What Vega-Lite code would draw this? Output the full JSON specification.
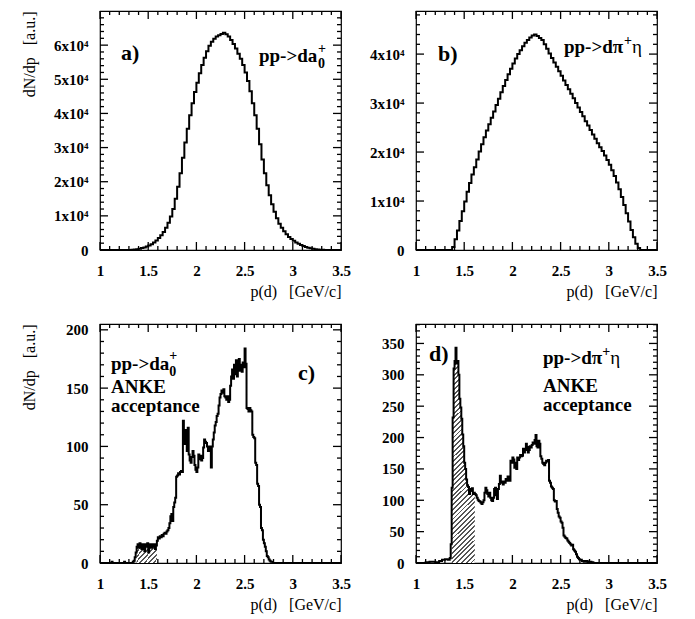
{
"$schema":"https://vega.github.io/schema/vega-lite/v6.json",
"padding":{"left":20,"top":10,"right":5,"bottom":5},
"autosize":{"type":"pad"},
"columns":2,
"spacing":{"row":74,"column":75},
"bounds":"flush",
"datasets":{
"xM":[1,1.5,2,2.5,3,3.5],
"xm":[1.1,1.2,1.3,1.4,1.6,1.7,1.8,1.9,2.1,2.2,2.3,2.4,2.6,2.7,2.8,2.9,3.1,3.2,3.3,3.4],
"yaM":[10000,20000,30000,40000,50000,60000],
"yam":[2000,4000,6000,8000,12000,14000,16000,18000,22000,24000,26000,28000,32000,34000,36000,38000,42000,44000,46000,48000,52000,54000,56000,58000,62000,64000,66000,68000],
"ybM":[10000,20000,30000,40000],
"ybm":[2000,4000,6000,8000,12000,14000,16000,18000,22000,24000,26000,28000,32000,34000,36000,38000,42000,44000,46000,48000],
"ycM":[50,100,150,200],
"ycm":[10,20,30,40,60,70,80,90,110,120,130,140,160,170,180,190],
"ydM":[50,100,150,200,250,300,350],
"ydm":[10,20,30,40,60,70,80,90,110,120,130,140,160,170,180,190,210,220,230,240,260,270,280,290,310,320,330,340,360,370,380],
"a":[{"p":1,"n":0},{"p":1.3,"n":30},{"p":1.325,"n":80},{"p":1.35,"n":150},{"p":1.375,"n":250},{"p":1.4,"n":380},{"p":1.425,"n":550},{"p":1.45,"n":750},{"p":1.475,"n":1000},{"p":1.5,"n":1300},{"p":1.525,"n":1700},{"p":1.55,"n":2200},{"p":1.575,"n":2800},{"p":1.6,"n":3500},{"p":1.625,"n":4300},{"p":1.65,"n":5300},{"p":1.675,"n":6500},{"p":1.7,"n":8000},{"p":1.725,"n":9800},{"p":1.75,"n":12000},{"p":1.775,"n":15000},{"p":1.8,"n":18500},{"p":1.825,"n":22500},{"p":1.85,"n":27000},{"p":1.875,"n":31500},{"p":1.9,"n":35500},{"p":1.925,"n":39500},{"p":1.95,"n":43000},{"p":1.975,"n":46300},{"p":2,"n":49000},{"p":2.025,"n":51800},{"p":2.05,"n":54200},{"p":2.075,"n":56300},{"p":2.1,"n":58200},{"p":2.125,"n":59800},{"p":2.15,"n":61000},{"p":2.175,"n":61900},{"p":2.2,"n":62500},{"p":2.225,"n":62900},{"p":2.25,"n":63300},{"p":2.275,"n":63600},{"p":2.3,"n":63200},{"p":2.325,"n":62500},{"p":2.35,"n":61500},{"p":2.375,"n":60300},{"p":2.4,"n":59000},{"p":2.425,"n":57500},{"p":2.45,"n":56000},{"p":2.475,"n":54200},{"p":2.5,"n":52000},{"p":2.525,"n":49500},{"p":2.55,"n":46500},{"p":2.575,"n":43000},{"p":2.6,"n":39500},{"p":2.625,"n":35500},{"p":2.65,"n":31000},{"p":2.675,"n":26500},{"p":2.7,"n":22500},{"p":2.725,"n":19000},{"p":2.75,"n":16000},{"p":2.775,"n":13400},{"p":2.8,"n":11200},{"p":2.825,"n":9300},{"p":2.85,"n":7700},{"p":2.875,"n":6500},{"p":2.9,"n":5500},{"p":2.925,"n":4600},{"p":2.95,"n":3800},{"p":2.975,"n":3200},{"p":3,"n":2700},{"p":3.025,"n":2200},{"p":3.05,"n":1800},{"p":3.075,"n":1450},{"p":3.1,"n":1150},{"p":3.125,"n":900},{"p":3.15,"n":680},{"p":3.175,"n":500},{"p":3.2,"n":360},{"p":3.225,"n":250},{"p":3.25,"n":160},{"p":3.275,"n":100},{"p":3.3,"n":50},{"p":3.325,"n":20},{"p":3.35,"n":0},{"p":3.5,"n":0}],
"b":[{"p":1,"n":0},{"p":1.375,"n":600},{"p":1.4,"n":2200},{"p":1.425,"n":4000},{"p":1.45,"n":5900},{"p":1.475,"n":7900},{"p":1.5,"n":9900},{"p":1.525,"n":11900},{"p":1.55,"n":13700},{"p":1.575,"n":15400},{"p":1.6,"n":16900},{"p":1.625,"n":18500},{"p":1.65,"n":20100},{"p":1.675,"n":21600},{"p":1.7,"n":23000},{"p":1.725,"n":24400},{"p":1.75,"n":25700},{"p":1.775,"n":27000},{"p":1.8,"n":28300},{"p":1.825,"n":29600},{"p":1.85,"n":30900},{"p":1.875,"n":32200},{"p":1.9,"n":33500},{"p":1.925,"n":34700},{"p":1.95,"n":35900},{"p":1.975,"n":37000},{"p":2,"n":38100},{"p":2.025,"n":39100},{"p":2.05,"n":40000},{"p":2.075,"n":40800},{"p":2.1,"n":41600},{"p":2.125,"n":42300},{"p":2.15,"n":42900},{"p":2.175,"n":43400},{"p":2.2,"n":43800},{"p":2.225,"n":44000},{"p":2.25,"n":43700},{"p":2.275,"n":43300},{"p":2.3,"n":42900},{"p":2.325,"n":42000},{"p":2.35,"n":41100},{"p":2.375,"n":40100},{"p":2.4,"n":39200},{"p":2.425,"n":38300},{"p":2.45,"n":37400},{"p":2.475,"n":36500},{"p":2.5,"n":35600},{"p":2.525,"n":34600},{"p":2.55,"n":33700},{"p":2.575,"n":32800},{"p":2.6,"n":31900},{"p":2.625,"n":31000},{"p":2.65,"n":30000},{"p":2.675,"n":29100},{"p":2.7,"n":28200},{"p":2.725,"n":27300},{"p":2.75,"n":26300},{"p":2.775,"n":25400},{"p":2.8,"n":24500},{"p":2.825,"n":23600},{"p":2.85,"n":22700},{"p":2.875,"n":21800},{"p":2.9,"n":21000},{"p":2.925,"n":20200},{"p":2.95,"n":19300},{"p":2.975,"n":18400},{"p":3,"n":17400},{"p":3.025,"n":16300},{"p":3.05,"n":15100},{"p":3.075,"n":13800},{"p":3.1,"n":12400},{"p":3.125,"n":10800},{"p":3.15,"n":9200},{"p":3.175,"n":7500},{"p":3.2,"n":5800},{"p":3.225,"n":4100},{"p":3.25,"n":2600},{"p":3.275,"n":1300},{"p":3.3,"n":400},{"p":3.325,"n":0},{"p":3.5,"n":0}],
"c":[{"p":1,"n":0},{"p":1.12,"n":1},{"p":1.13,"n":0},{"p":1.25,"n":1},{"p":1.26,"n":0},{"p":1.34,"n":1},{"p":1.35,"n":2},{"p":1.36,"n":5},{"p":1.37,"n":9},{"p":1.38,"n":14},{"p":1.39,"n":16},{"p":1.4,"n":13},{"p":1.41,"n":17},{"p":1.42,"n":15},{"p":1.43,"n":12},{"p":1.44,"n":16},{"p":1.45,"n":15},{"p":1.46,"n":10},{"p":1.47,"n":16},{"p":1.48,"n":14},{"p":1.49,"n":17},{"p":1.5,"n":9},{"p":1.51,"n":15},{"p":1.52,"n":16},{"p":1.53,"n":13},{"p":1.54,"n":16},{"p":1.55,"n":14},{"p":1.56,"n":16},{"p":1.57,"n":12},{"p":1.58,"n":15},{"p":1.59,"n":19},{"p":1.6,"n":22},{"p":1.61,"n":21},{"p":1.62,"n":23},{"p":1.63,"n":22},{"p":1.64,"n":24},{"p":1.65,"n":23},{"p":1.66,"n":25},{"p":1.67,"n":26},{"p":1.68,"n":25},{"p":1.69,"n":27},{"p":1.7,"n":28},{"p":1.71,"n":30},{"p":1.72,"n":34},{"p":1.73,"n":40},{"p":1.74,"n":42},{"p":1.75,"n":36},{"p":1.76,"n":48},{"p":1.77,"n":52},{"p":1.78,"n":56},{"p":1.79,"n":74},{"p":1.8,"n":75},{"p":1.81,"n":77},{"p":1.82,"n":76},{"p":1.83,"n":78},{"p":1.84,"n":79},{"p":1.85,"n":78},{"p":1.86,"n":122},{"p":1.87,"n":110},{"p":1.88,"n":102},{"p":1.89,"n":114},{"p":1.9,"n":96},{"p":1.91,"n":116},{"p":1.92,"n":93},{"p":1.93,"n":88},{"p":1.94,"n":86},{"p":1.95,"n":91},{"p":1.96,"n":96},{"p":1.97,"n":92},{"p":1.98,"n":84},{"p":1.99,"n":80},{"p":2,"n":78},{"p":2.01,"n":82},{"p":2.02,"n":93},{"p":2.03,"n":89},{"p":2.04,"n":92},{"p":2.05,"n":88},{"p":2.06,"n":90},{"p":2.07,"n":99},{"p":2.08,"n":106},{"p":2.09,"n":104},{"p":2.1,"n":103},{"p":2.11,"n":100},{"p":2.12,"n":96},{"p":2.13,"n":100},{"p":2.14,"n":96},{"p":2.15,"n":82},{"p":2.16,"n":100},{"p":2.17,"n":106},{"p":2.18,"n":112},{"p":2.19,"n":118},{"p":2.2,"n":121},{"p":2.21,"n":126},{"p":2.22,"n":128},{"p":2.23,"n":135},{"p":2.24,"n":142},{"p":2.25,"n":145},{"p":2.26,"n":148},{"p":2.27,"n":146},{"p":2.28,"n":149},{"p":2.29,"n":143},{"p":2.3,"n":142},{"p":2.31,"n":140},{"p":2.32,"n":143},{"p":2.33,"n":138},{"p":2.34,"n":140},{"p":2.35,"n":152},{"p":2.36,"n":160},{"p":2.37,"n":166},{"p":2.38,"n":158},{"p":2.39,"n":170},{"p":2.4,"n":162},{"p":2.41,"n":174},{"p":2.42,"n":160},{"p":2.43,"n":166},{"p":2.44,"n":175},{"p":2.45,"n":165},{"p":2.46,"n":170},{"p":2.47,"n":164},{"p":2.48,"n":172},{"p":2.49,"n":168},{"p":2.5,"n":184},{"p":2.51,"n":171},{"p":2.52,"n":133},{"p":2.53,"n":132},{"p":2.54,"n":130},{"p":2.55,"n":133},{"p":2.56,"n":131},{"p":2.57,"n":130},{"p":2.58,"n":110},{"p":2.59,"n":108},{"p":2.6,"n":107},{"p":2.61,"n":86},{"p":2.62,"n":84},{"p":2.63,"n":68},{"p":2.64,"n":66},{"p":2.65,"n":50},{"p":2.66,"n":48},{"p":2.67,"n":30},{"p":2.68,"n":28},{"p":2.69,"n":20},{"p":2.7,"n":17},{"p":2.71,"n":14},{"p":2.72,"n":10},{"p":2.73,"n":6},{"p":2.74,"n":5},{"p":2.75,"n":3},{"p":2.76,"n":2},{"p":2.77,"n":1},{"p":2.78,"n":1},{"p":2.79,"n":0},{"p":3.5,"n":0}],
"d":[{"p":1,"n":0},{"p":1.1,"n":1},{"p":1.14,"n":2},{"p":1.2,"n":1},{"p":1.24,"n":3},{"p":1.27,"n":5},{"p":1.3,"n":6},{"p":1.33,"n":5},{"p":1.35,"n":8},{"p":1.36,"n":30},{"p":1.37,"n":120},{"p":1.38,"n":232},{"p":1.39,"n":310},{"p":1.4,"n":322},{"p":1.41,"n":343},{"p":1.42,"n":318},{"p":1.43,"n":322},{"p":1.44,"n":300},{"p":1.45,"n":262},{"p":1.46,"n":248},{"p":1.47,"n":230},{"p":1.48,"n":205},{"p":1.49,"n":186},{"p":1.5,"n":160},{"p":1.51,"n":150},{"p":1.52,"n":133},{"p":1.53,"n":124},{"p":1.54,"n":121},{"p":1.55,"n":110},{"p":1.56,"n":118},{"p":1.57,"n":115},{"p":1.58,"n":119},{"p":1.59,"n":110},{"p":1.6,"n":112},{"p":1.61,"n":110},{"p":1.62,"n":108},{"p":1.63,"n":104},{"p":1.64,"n":101},{"p":1.65,"n":99},{"p":1.66,"n":98},{"p":1.67,"n":96},{"p":1.68,"n":94},{"p":1.69,"n":97},{"p":1.7,"n":100},{"p":1.71,"n":112},{"p":1.72,"n":120},{"p":1.73,"n":116},{"p":1.74,"n":110},{"p":1.75,"n":106},{"p":1.76,"n":112},{"p":1.77,"n":104},{"p":1.78,"n":100},{"p":1.79,"n":99},{"p":1.8,"n":104},{"p":1.81,"n":118},{"p":1.82,"n":120},{"p":1.83,"n":108},{"p":1.84,"n":102},{"p":1.85,"n":118},{"p":1.86,"n":126},{"p":1.87,"n":139},{"p":1.88,"n":130},{"p":1.89,"n":128},{"p":1.9,"n":125},{"p":1.91,"n":130},{"p":1.92,"n":128},{"p":1.93,"n":134},{"p":1.94,"n":131},{"p":1.95,"n":138},{"p":1.96,"n":132},{"p":1.97,"n":131},{"p":1.98,"n":163},{"p":1.99,"n":160},{"p":2,"n":168},{"p":2.01,"n":165},{"p":2.02,"n":152},{"p":2.03,"n":160},{"p":2.04,"n":150},{"p":2.05,"n":168},{"p":2.06,"n":164},{"p":2.07,"n":168},{"p":2.08,"n":172},{"p":2.09,"n":170},{"p":2.1,"n":171},{"p":2.11,"n":182},{"p":2.12,"n":176},{"p":2.13,"n":180},{"p":2.14,"n":190},{"p":2.15,"n":185},{"p":2.16,"n":176},{"p":2.17,"n":180},{"p":2.18,"n":186},{"p":2.19,"n":184},{"p":2.2,"n":188},{"p":2.21,"n":192},{"p":2.22,"n":190},{"p":2.23,"n":196},{"p":2.24,"n":204},{"p":2.25,"n":186},{"p":2.26,"n":184},{"p":2.27,"n":195},{"p":2.28,"n":190},{"p":2.29,"n":170},{"p":2.3,"n":166},{"p":2.31,"n":160},{"p":2.32,"n":158},{"p":2.33,"n":156},{"p":2.34,"n":160},{"p":2.35,"n":163},{"p":2.36,"n":162},{"p":2.37,"n":164},{"p":2.38,"n":131},{"p":2.39,"n":128},{"p":2.4,"n":122},{"p":2.41,"n":120},{"p":2.42,"n":118},{"p":2.43,"n":100},{"p":2.44,"n":98},{"p":2.45,"n":99},{"p":2.46,"n":86},{"p":2.47,"n":80},{"p":2.48,"n":74},{"p":2.49,"n":72},{"p":2.5,"n":66},{"p":2.51,"n":64},{"p":2.52,"n":56},{"p":2.53,"n":44},{"p":2.54,"n":42},{"p":2.55,"n":40},{"p":2.56,"n":39},{"p":2.57,"n":36},{"p":2.58,"n":34},{"p":2.59,"n":32},{"p":2.6,"n":30},{"p":2.61,"n":28},{"p":2.62,"n":29},{"p":2.63,"n":22},{"p":2.64,"n":20},{"p":2.65,"n":18},{"p":2.66,"n":14},{"p":2.67,"n":10},{"p":2.68,"n":8},{"p":2.69,"n":6},{"p":2.7,"n":5},{"p":2.72,"n":3},{"p":2.74,"n":2},{"p":2.76,"n":3},{"p":2.78,"n":1},{"p":2.8,"n":2},{"p":2.82,"n":1},{"p":2.84,"n":0},{"p":3.5,"n":0}]
},
"concat":[
{
"width":241,"height":239,"data":{"name":"a"},
"resolve":{"axis":{"x":"independent","y":"independent"}},
"layer":[
{"data":{"name":"xM"},"mark":{"type":"tick","orient":"vertical","color":"black","opacity":1,"thickness":1.3,"size":8,"yOffset":-4},"encoding":{"x":{"field":"data","type":"quantitative","scale":{"domain":[1,3.5],"nice":false,"zero":false},"axis":null},"y":{"datum":0,"type":"quantitative","scale":{"domain":[0,70000],"nice":false},"axis":null}}},
{"data":{"name":"xm"},"mark":{"type":"tick","orient":"vertical","color":"black","opacity":1,"thickness":1.3,"size":4,"yOffset":-2},"encoding":{"x":{"field":"data","type":"quantitative","scale":{"domain":[1,3.5],"nice":false,"zero":false},"axis":null},"y":{"datum":0,"type":"quantitative","scale":{"domain":[0,70000],"nice":false},"axis":null}}},
{"data":{"name":"xM"},"mark":{"type":"tick","orient":"vertical","color":"black","opacity":1,"thickness":1.3,"size":8,"yOffset":4},"encoding":{"x":{"field":"data","type":"quantitative","scale":{"domain":[1,3.5],"nice":false,"zero":false},"axis":null},"y":{"datum":70000,"type":"quantitative","scale":{"domain":[0,70000],"nice":false},"axis":null}}},
{"data":{"name":"xm"},"mark":{"type":"tick","orient":"vertical","color":"black","opacity":1,"thickness":1.3,"size":4,"yOffset":2},"encoding":{"x":{"field":"data","type":"quantitative","scale":{"domain":[1,3.5],"nice":false,"zero":false},"axis":null},"y":{"datum":70000,"type":"quantitative","scale":{"domain":[0,70000],"nice":false},"axis":null}}},
{"data":{"name":"yaM"},"mark":{"type":"tick","orient":"horizontal","color":"black","opacity":1,"thickness":1.3,"size":8,"xOffset":4},"encoding":{"y":{"field":"data","type":"quantitative","scale":{"domain":[0,70000],"nice":false},"axis":null},"x":{"datum":1,"type":"quantitative","scale":{"domain":[1,3.5],"nice":false,"zero":false},"axis":null}}},
{"data":{"name":"yam"},"mark":{"type":"tick","orient":"horizontal","color":"black","opacity":1,"thickness":1.3,"size":4,"xOffset":2},"encoding":{"y":{"field":"data","type":"quantitative","scale":{"domain":[0,70000],"nice":false},"axis":null},"x":{"datum":1,"type":"quantitative","scale":{"domain":[1,3.5],"nice":false,"zero":false},"axis":null}}},
{"data":{"name":"yaM"},"mark":{"type":"tick","orient":"horizontal","color":"black","opacity":1,"thickness":1.3,"size":8,"xOffset":-4},"encoding":{"y":{"field":"data","type":"quantitative","scale":{"domain":[0,70000],"nice":false},"axis":null},"x":{"datum":3.5,"type":"quantitative","scale":{"domain":[1,3.5],"nice":false,"zero":false},"axis":null}}},
{"data":{"name":"yam"},"mark":{"type":"tick","orient":"horizontal","color":"black","opacity":1,"thickness":1.3,"size":4,"xOffset":-2},"encoding":{"y":{"field":"data","type":"quantitative","scale":{"domain":[0,70000],"nice":false},"axis":null},"x":{"datum":3.5,"type":"quantitative","scale":{"domain":[1,3.5],"nice":false,"zero":false},"axis":null}}},
{"mark":{"type":"line","interpolate":"step-after","color":"black","strokeWidth":2},
"encoding":{
"x":{"field":"p","type":"quantitative","scale":{"domain":[1,3.5],"nice":false,"zero":false},"axis":{"orient":"bottom","values":[1,1.5,2,2.5,3,3.5],"labelExpr":"''+datum.value","ticks":false,"labelPadding":13,"title":"p(d)\u00a0\u00a0\u00a0[GeV/c]","titleAnchor":"end","titlePadding":5}},
"y":{"field":"n","type":"quantitative","scale":{"domain":[0,70000],"nice":false},"axis":{"orient":"left","values":[0,10000,20000,30000,40000,50000,60000],"labelExpr":"datum.value==0 ? '0' : (datum.value/10000)+'x10⁴'","ticks":false,"labelPadding":12,"title":"dN/dp\u00a0\u00a0\u00a0[a.u.]","titleX":-71,"titleY":0,"titleAngle":-90,"titleAlign":"right","titleBaseline":"middle"}}}},
{"data":{"values":[{}]},"mark":{"type":"text","text":"a)","font":"Liberation Serif","fontWeight":"bold","fontSize":22,"align":"left","baseline":"middle","color":"black"},
"encoding":{"x":{"datum":1.218,"type":"quantitative","scale":{"domain":[1,3.5],"nice":false,"zero":false},"axis":null},"y":{"datum":57700,"type":"quantitative","scale":{"domain":[0,70000],"nice":false},"axis":null}}},
{"data":{"values":[{}]},"mark":{"type":"text","text":"pp->da","font":"Liberation Serif","fontWeight":"bold","fontSize":19,"align":"left","baseline":"alphabetic","color":"black"},
"encoding":{"x":{"datum":2.649,"type":"quantitative","scale":{"domain":[1,3.5],"nice":false,"zero":false},"axis":null},"y":{"datum":55070,"type":"quantitative","scale":{"domain":[0,70000],"nice":false},"axis":null}}},
{"data":{"values":[{}]},"mark":{"type":"text","text":"0","font":"Liberation Serif","fontWeight":"bold","fontSize":14,"align":"left","baseline":"alphabetic","color":"black"},
"encoding":{"x":{"datum":3.261,"type":"quantitative","scale":{"domain":[1,3.5],"nice":false,"zero":false},"axis":null},"y":{"datum":53310,"type":"quantitative","scale":{"domain":[0,70000],"nice":false},"axis":null}}},
{"data":{"values":[{}]},"mark":{"type":"text","text":"+","font":"Liberation Serif","fontWeight":"bold","fontSize":14,"align":"left","baseline":"alphabetic","color":"black"},
"encoding":{"x":{"datum":3.261,"type":"quantitative","scale":{"domain":[1,3.5],"nice":false,"zero":false},"axis":null},"y":{"datum":57700,"type":"quantitative","scale":{"domain":[0,70000],"nice":false},"axis":null}}}
]
},
{
"width":241,"height":239,"data":{"name":"b"},
"resolve":{"axis":{"x":"independent","y":"independent"}},
"layer":[
{"data":{"name":"xM"},"mark":{"type":"tick","orient":"vertical","color":"black","opacity":1,"thickness":1.3,"size":8,"yOffset":-4},"encoding":{"x":{"field":"data","type":"quantitative","scale":{"domain":[1,3.5],"nice":false,"zero":false},"axis":null},"y":{"datum":0,"type":"quantitative","scale":{"domain":[0,48800],"nice":false},"axis":null}}},
{"data":{"name":"xm"},"mark":{"type":"tick","orient":"vertical","color":"black","opacity":1,"thickness":1.3,"size":4,"yOffset":-2},"encoding":{"x":{"field":"data","type":"quantitative","scale":{"domain":[1,3.5],"nice":false,"zero":false},"axis":null},"y":{"datum":0,"type":"quantitative","scale":{"domain":[0,48800],"nice":false},"axis":null}}},
{"data":{"name":"xM"},"mark":{"type":"tick","orient":"vertical","color":"black","opacity":1,"thickness":1.3,"size":8,"yOffset":4},"encoding":{"x":{"field":"data","type":"quantitative","scale":{"domain":[1,3.5],"nice":false,"zero":false},"axis":null},"y":{"datum":48800,"type":"quantitative","scale":{"domain":[0,48800],"nice":false},"axis":null}}},
{"data":{"name":"xm"},"mark":{"type":"tick","orient":"vertical","color":"black","opacity":1,"thickness":1.3,"size":4,"yOffset":2},"encoding":{"x":{"field":"data","type":"quantitative","scale":{"domain":[1,3.5],"nice":false,"zero":false},"axis":null},"y":{"datum":48800,"type":"quantitative","scale":{"domain":[0,48800],"nice":false},"axis":null}}},
{"data":{"name":"ybM"},"mark":{"type":"tick","orient":"horizontal","color":"black","opacity":1,"thickness":1.3,"size":8,"xOffset":4},"encoding":{"y":{"field":"data","type":"quantitative","scale":{"domain":[0,48800],"nice":false},"axis":null},"x":{"datum":1,"type":"quantitative","scale":{"domain":[1,3.5],"nice":false,"zero":false},"axis":null}}},
{"data":{"name":"ybm"},"mark":{"type":"tick","orient":"horizontal","color":"black","opacity":1,"thickness":1.3,"size":4,"xOffset":2},"encoding":{"y":{"field":"data","type":"quantitative","scale":{"domain":[0,48800],"nice":false},"axis":null},"x":{"datum":1,"type":"quantitative","scale":{"domain":[1,3.5],"nice":false,"zero":false},"axis":null}}},
{"data":{"name":"ybM"},"mark":{"type":"tick","orient":"horizontal","color":"black","opacity":1,"thickness":1.3,"size":8,"xOffset":-4},"encoding":{"y":{"field":"data","type":"quantitative","scale":{"domain":[0,48800],"nice":false},"axis":null},"x":{"datum":3.5,"type":"quantitative","scale":{"domain":[1,3.5],"nice":false,"zero":false},"axis":null}}},
{"data":{"name":"ybm"},"mark":{"type":"tick","orient":"horizontal","color":"black","opacity":1,"thickness":1.3,"size":4,"xOffset":-2},"encoding":{"y":{"field":"data","type":"quantitative","scale":{"domain":[0,48800],"nice":false},"axis":null},"x":{"datum":3.5,"type":"quantitative","scale":{"domain":[1,3.5],"nice":false,"zero":false},"axis":null}}},
{"mark":{"type":"line","interpolate":"step-after","color":"black","strokeWidth":2},
"encoding":{
"x":{"field":"p","type":"quantitative","scale":{"domain":[1,3.5],"nice":false,"zero":false},"axis":{"orient":"bottom","values":[1,1.5,2,2.5,3,3.5],"labelExpr":"''+datum.value","ticks":false,"labelPadding":13,"title":"p(d)\u00a0\u00a0\u00a0[GeV/c]","titleAnchor":"end","titlePadding":5}},
"y":{"field":"n","type":"quantitative","scale":{"domain":[0,48800],"nice":false},"axis":{"orient":"left","values":[0,10000,20000,30000,40000],"labelExpr":"datum.value==0 ? '0' : (datum.value/10000)+'x10⁴'","ticks":false,"labelPadding":12,"title":null}}}},
{"data":{"values":[{}]},"mark":{"type":"text","text":"b)","font":"Liberation Serif","fontWeight":"bold","fontSize":22,"align":"left","baseline":"middle","color":"black"},
"encoding":{"x":{"datum":1.228,"type":"quantitative","scale":{"domain":[1,3.5],"nice":false,"zero":false},"axis":null},"y":{"datum":40020,"type":"quantitative","scale":{"domain":[0,48800],"nice":false},"axis":null}}},
{"data":{"values":[{}]},"mark":{"type":"text","text":"pp->dπ","font":"Liberation Serif","fontWeight":"bold","fontSize":19,"align":"left","baseline":"alphabetic","color":"black"},
"encoding":{"x":{"datum":2.535,"type":"quantitative","scale":{"domain":[1,3.5],"nice":false,"zero":false},"axis":null},"y":{"datum":40230,"type":"quantitative","scale":{"domain":[0,48800],"nice":false},"axis":null}}},
{"data":{"values":[{}]},"mark":{"type":"text","text":"+","font":"Liberation Serif","fontWeight":"bold","fontSize":14,"align":"left","baseline":"alphabetic","color":"black"},
"encoding":{"x":{"datum":3.158,"type":"quantitative","scale":{"domain":[1,3.5],"nice":false,"zero":false},"axis":null},"y":{"datum":41860,"type":"quantitative","scale":{"domain":[0,48800],"nice":false},"axis":null}}},
{"data":{"values":[{}]},"mark":{"type":"text","text":"η","font":"Liberation Serif","fontSize":19,"align":"left","baseline":"alphabetic","color":"black"},
"encoding":{"x":{"datum":3.241,"type":"quantitative","scale":{"domain":[1,3.5],"nice":false,"zero":false},"axis":null},"y":{"datum":40230,"type":"quantitative","scale":{"domain":[0,48800],"nice":false},"axis":null}}}
]
},
{
"width":241,"height":239,"data":{"name":"c"},
"resolve":{"axis":{"x":"independent","y":"independent"}},
"layer":[
{"data":{"name":"xM"},"mark":{"type":"tick","orient":"vertical","color":"black","opacity":1,"thickness":1.3,"size":8,"yOffset":-4},"encoding":{"x":{"field":"data","type":"quantitative","scale":{"domain":[1,3.5],"nice":false,"zero":false},"axis":null},"y":{"datum":0,"type":"quantitative","scale":{"domain":[0,205],"nice":false},"axis":null}}},
{"data":{"name":"xm"},"mark":{"type":"tick","orient":"vertical","color":"black","opacity":1,"thickness":1.3,"size":4,"yOffset":-2},"encoding":{"x":{"field":"data","type":"quantitative","scale":{"domain":[1,3.5],"nice":false,"zero":false},"axis":null},"y":{"datum":0,"type":"quantitative","scale":{"domain":[0,205],"nice":false},"axis":null}}},
{"data":{"name":"xM"},"mark":{"type":"tick","orient":"vertical","color":"black","opacity":1,"thickness":1.3,"size":8,"yOffset":4},"encoding":{"x":{"field":"data","type":"quantitative","scale":{"domain":[1,3.5],"nice":false,"zero":false},"axis":null},"y":{"datum":205,"type":"quantitative","scale":{"domain":[0,205],"nice":false},"axis":null}}},
{"data":{"name":"xm"},"mark":{"type":"tick","orient":"vertical","color":"black","opacity":1,"thickness":1.3,"size":4,"yOffset":2},"encoding":{"x":{"field":"data","type":"quantitative","scale":{"domain":[1,3.5],"nice":false,"zero":false},"axis":null},"y":{"datum":205,"type":"quantitative","scale":{"domain":[0,205],"nice":false},"axis":null}}},
{"data":{"name":"ycM"},"mark":{"type":"tick","orient":"horizontal","color":"black","opacity":1,"thickness":1.3,"size":8,"xOffset":4},"encoding":{"y":{"field":"data","type":"quantitative","scale":{"domain":[0,205],"nice":false},"axis":null},"x":{"datum":1,"type":"quantitative","scale":{"domain":[1,3.5],"nice":false,"zero":false},"axis":null}}},
{"data":{"name":"ycm"},"mark":{"type":"tick","orient":"horizontal","color":"black","opacity":1,"thickness":1.3,"size":4,"xOffset":2},"encoding":{"y":{"field":"data","type":"quantitative","scale":{"domain":[0,205],"nice":false},"axis":null},"x":{"datum":1,"type":"quantitative","scale":{"domain":[1,3.5],"nice":false,"zero":false},"axis":null}}},
{"data":{"name":"ycM"},"mark":{"type":"tick","orient":"horizontal","color":"black","opacity":1,"thickness":1.3,"size":8,"xOffset":-4},"encoding":{"y":{"field":"data","type":"quantitative","scale":{"domain":[0,205],"nice":false},"axis":null},"x":{"datum":3.5,"type":"quantitative","scale":{"domain":[1,3.5],"nice":false,"zero":false},"axis":null}}},
{"data":{"name":"ycm"},"mark":{"type":"tick","orient":"horizontal","color":"black","opacity":1,"thickness":1.3,"size":4,"xOffset":-2},"encoding":{"y":{"field":"data","type":"quantitative","scale":{"domain":[0,205],"nice":false},"axis":null},"x":{"datum":3.5,"type":"quantitative","scale":{"domain":[1,3.5],"nice":false,"zero":false},"axis":null}}},
{"transform":[{"filter":"datum.p >= 1.38 && datum.p <= 1.59"}],
"mark":{"type":"area","interpolate":"step-after","fill":{"gradient":"linear","x1":0,"y1":0,"x2":1,"y2":1,"stops":[{"offset":0,"color":"#555"},{"offset":0.044,"color":"#555"},{"offset":0.044,"color":"#fff"},{"offset":0.111,"color":"#fff"},{"offset":0.111,"color":"#555"},{"offset":0.155,"color":"#555"},{"offset":0.155,"color":"#fff"},{"offset":0.222,"color":"#fff"},{"offset":0.222,"color":"#555"},{"offset":0.266,"color":"#555"},{"offset":0.266,"color":"#fff"},{"offset":0.333,"color":"#fff"},{"offset":0.333,"color":"#555"},{"offset":0.377,"color":"#555"},{"offset":0.377,"color":"#fff"},{"offset":0.444,"color":"#fff"},{"offset":0.444,"color":"#555"},{"offset":0.488,"color":"#555"},{"offset":0.488,"color":"#fff"},{"offset":0.556,"color":"#fff"},{"offset":0.556,"color":"#555"},{"offset":0.6,"color":"#555"},{"offset":0.6,"color":"#fff"},{"offset":0.667,"color":"#fff"},{"offset":0.667,"color":"#555"},{"offset":0.711,"color":"#555"},{"offset":0.711,"color":"#fff"},{"offset":0.778,"color":"#fff"},{"offset":0.778,"color":"#555"},{"offset":0.822,"color":"#555"},{"offset":0.822,"color":"#fff"},{"offset":0.889,"color":"#fff"},{"offset":0.889,"color":"#555"},{"offset":0.933,"color":"#555"},{"offset":0.933,"color":"#fff"},{"offset":1,"color":"#fff"}]}},
"encoding":{"x":{"field":"p","type":"quantitative","scale":{"domain":[1,3.5],"nice":false,"zero":false},"axis":null},"y":{"field":"n","type":"quantitative","scale":{"domain":[0,205],"nice":false},"axis":null}}},
{"mark":{"type":"line","interpolate":"step-after","color":"black","strokeWidth":2},
"encoding":{
"x":{"field":"p","type":"quantitative","scale":{"domain":[1,3.5],"nice":false,"zero":false},"axis":{"orient":"bottom","values":[1,1.5,2,2.5,3,3.5],"labelExpr":"''+datum.value","ticks":false,"labelPadding":13,"title":"p(d)\u00a0\u00a0\u00a0[GeV/c]","titleAnchor":"end","titlePadding":5}},
"y":{"field":"n","type":"quantitative","scale":{"domain":[0,205],"nice":false},"axis":{"orient":"left","values":[0,50,100,150,200],"labelExpr":"''+datum.value","ticks":false,"labelPadding":12,"title":"dN/dp\u00a0\u00a0\u00a0[a.u.]","titleX":-71,"titleY":0,"titleAngle":-90,"titleAlign":"right","titleBaseline":"middle"}}}},
{"data":{"values":[{}]},"mark":{"type":"text","text":"c)","font":"Liberation Serif","fontWeight":"bold","fontSize":22,"align":"left","baseline":"middle","color":"black"},
"encoding":{"x":{"datum":3.054,"type":"quantitative","scale":{"domain":[1,3.5],"nice":false,"zero":false},"axis":null},"y":{"datum":163,"type":"quantitative","scale":{"domain":[0,205],"nice":false},"axis":null}}},
{"data":{"values":[{}]},"mark":{"type":"text","text":"pp->da","font":"Liberation Serif","fontWeight":"bold","fontSize":19,"align":"left","baseline":"alphabetic","color":"black"},
"encoding":{"x":{"datum":1.114,"type":"quantitative","scale":{"domain":[1,3.5],"nice":false,"zero":false},"axis":null},"y":{"datum":165.5,"type":"quantitative","scale":{"domain":[0,205],"nice":false},"axis":null}}},
{"data":{"values":[{}]},"mark":{"type":"text","text":"0","font":"Liberation Serif","fontWeight":"bold","fontSize":14,"align":"left","baseline":"alphabetic","color":"black"},
"encoding":{"x":{"datum":1.719,"type":"quantitative","scale":{"domain":[1,3.5],"nice":false,"zero":false},"axis":null},"y":{"datum":160.4,"type":"quantitative","scale":{"domain":[0,205],"nice":false},"axis":null}}},
{"data":{"values":[{}]},"mark":{"type":"text","text":"+","font":"Liberation Serif","fontWeight":"bold","fontSize":14,"align":"left","baseline":"alphabetic","color":"black"},
"encoding":{"x":{"datum":1.719,"type":"quantitative","scale":{"domain":[1,3.5],"nice":false,"zero":false},"axis":null},"y":{"datum":174.1,"type":"quantitative","scale":{"domain":[0,205],"nice":false},"axis":null}}},
{"data":{"values":[{}]},"mark":{"type":"text","text":"ANKE","font":"Liberation Serif","fontWeight":"bold","fontSize":19,"align":"left","baseline":"alphabetic","color":"black"},
"encoding":{"x":{"datum":1.114,"type":"quantitative","scale":{"domain":[1,3.5],"nice":false,"zero":false},"axis":null},"y":{"datum":145.8,"type":"quantitative","scale":{"domain":[0,205],"nice":false},"axis":null}}},
{"data":{"values":[{}]},"mark":{"type":"text","text":"acceptance","font":"Liberation Serif","fontWeight":"bold","fontSize":19,"align":"left","baseline":"alphabetic","color":"black"},
"encoding":{"x":{"datum":1.114,"type":"quantitative","scale":{"domain":[1,3.5],"nice":false,"zero":false},"axis":null},"y":{"datum":129.5,"type":"quantitative","scale":{"domain":[0,205],"nice":false},"axis":null}}}
]
},
{
"width":241,"height":239,"data":{"name":"d"},
"resolve":{"axis":{"x":"independent","y":"independent"}},
"layer":[
{"data":{"name":"xM"},"mark":{"type":"tick","orient":"vertical","color":"black","opacity":1,"thickness":1.3,"size":8,"yOffset":-4},"encoding":{"x":{"field":"data","type":"quantitative","scale":{"domain":[1,3.5],"nice":false,"zero":false},"axis":null},"y":{"datum":0,"type":"quantitative","scale":{"domain":[0,381],"nice":false},"axis":null}}},
{"data":{"name":"xm"},"mark":{"type":"tick","orient":"vertical","color":"black","opacity":1,"thickness":1.3,"size":4,"yOffset":-2},"encoding":{"x":{"field":"data","type":"quantitative","scale":{"domain":[1,3.5],"nice":false,"zero":false},"axis":null},"y":{"datum":0,"type":"quantitative","scale":{"domain":[0,381],"nice":false},"axis":null}}},
{"data":{"name":"xM"},"mark":{"type":"tick","orient":"vertical","color":"black","opacity":1,"thickness":1.3,"size":8,"yOffset":4},"encoding":{"x":{"field":"data","type":"quantitative","scale":{"domain":[1,3.5],"nice":false,"zero":false},"axis":null},"y":{"datum":381,"type":"quantitative","scale":{"domain":[0,381],"nice":false},"axis":null}}},
{"data":{"name":"xm"},"mark":{"type":"tick","orient":"vertical","color":"black","opacity":1,"thickness":1.3,"size":4,"yOffset":2},"encoding":{"x":{"field":"data","type":"quantitative","scale":{"domain":[1,3.5],"nice":false,"zero":false},"axis":null},"y":{"datum":381,"type":"quantitative","scale":{"domain":[0,381],"nice":false},"axis":null}}},
{"data":{"name":"ydM"},"mark":{"type":"tick","orient":"horizontal","color":"black","opacity":1,"thickness":1.3,"size":8,"xOffset":4},"encoding":{"y":{"field":"data","type":"quantitative","scale":{"domain":[0,381],"nice":false},"axis":null},"x":{"datum":1,"type":"quantitative","scale":{"domain":[1,3.5],"nice":false,"zero":false},"axis":null}}},
{"data":{"name":"ydm"},"mark":{"type":"tick","orient":"horizontal","color":"black","opacity":1,"thickness":1.3,"size":4,"xOffset":2},"encoding":{"y":{"field":"data","type":"quantitative","scale":{"domain":[0,381],"nice":false},"axis":null},"x":{"datum":1,"type":"quantitative","scale":{"domain":[1,3.5],"nice":false,"zero":false},"axis":null}}},
{"data":{"name":"ydM"},"mark":{"type":"tick","orient":"horizontal","color":"black","opacity":1,"thickness":1.3,"size":8,"xOffset":-4},"encoding":{"y":{"field":"data","type":"quantitative","scale":{"domain":[0,381],"nice":false},"axis":null},"x":{"datum":3.5,"type":"quantitative","scale":{"domain":[1,3.5],"nice":false,"zero":false},"axis":null}}},
{"data":{"name":"ydm"},"mark":{"type":"tick","orient":"horizontal","color":"black","opacity":1,"thickness":1.3,"size":4,"xOffset":-2},"encoding":{"y":{"field":"data","type":"quantitative","scale":{"domain":[0,381],"nice":false},"axis":null},"x":{"datum":3.5,"type":"quantitative","scale":{"domain":[1,3.5],"nice":false,"zero":false},"axis":null}}},
{"transform":[{"filter":"datum.p >= 1.37 && datum.p <= 1.61"}],
"mark":{"type":"area","interpolate":"step-after","fill":{"gradient":"linear","x1":0,"y1":0,"x2":0.117,"y2":1.0945,"stops":[{"offset":0,"color":"#555"},{"offset":0.008,"color":"#555"},{"offset":0.008,"color":"#fff"},{"offset":0.02,"color":"#fff"},{"offset":0.02,"color":"#555"},{"offset":0.028,"color":"#555"},{"offset":0.028,"color":"#fff"},{"offset":0.04,"color":"#fff"},{"offset":0.04,"color":"#555"},{"offset":0.048,"color":"#555"},{"offset":0.048,"color":"#fff"},{"offset":0.06,"color":"#fff"},{"offset":0.06,"color":"#555"},{"offset":0.068,"color":"#555"},{"offset":0.068,"color":"#fff"},{"offset":0.08,"color":"#fff"},{"offset":0.08,"color":"#555"},{"offset":0.088,"color":"#555"},{"offset":0.088,"color":"#fff"},{"offset":0.1,"color":"#fff"},{"offset":0.1,"color":"#555"},{"offset":0.108,"color":"#555"},{"offset":0.108,"color":"#fff"},{"offset":0.12,"color":"#fff"},{"offset":0.12,"color":"#555"},{"offset":0.128,"color":"#555"},{"offset":0.128,"color":"#fff"},{"offset":0.14,"color":"#fff"},{"offset":0.14,"color":"#555"},{"offset":0.148,"color":"#555"},{"offset":0.148,"color":"#fff"},{"offset":0.16,"color":"#fff"},{"offset":0.16,"color":"#555"},{"offset":0.168,"color":"#555"},{"offset":0.168,"color":"#fff"},{"offset":0.18,"color":"#fff"},{"offset":0.18,"color":"#555"},{"offset":0.188,"color":"#555"},{"offset":0.188,"color":"#fff"},{"offset":0.2,"color":"#fff"},{"offset":0.2,"color":"#555"},{"offset":0.208,"color":"#555"},{"offset":0.208,"color":"#fff"},{"offset":0.22,"color":"#fff"},{"offset":0.22,"color":"#555"},{"offset":0.228,"color":"#555"},{"offset":0.228,"color":"#fff"},{"offset":0.24,"color":"#fff"},{"offset":0.24,"color":"#555"},{"offset":0.248,"color":"#555"},{"offset":0.248,"color":"#fff"},{"offset":0.26,"color":"#fff"},{"offset":0.26,"color":"#555"},{"offset":0.268,"color":"#555"},{"offset":0.268,"color":"#fff"},{"offset":0.28,"color":"#fff"},{"offset":0.28,"color":"#555"},{"offset":0.288,"color":"#555"},{"offset":0.288,"color":"#fff"},{"offset":0.3,"color":"#fff"},{"offset":0.3,"color":"#555"},{"offset":0.308,"color":"#555"},{"offset":0.308,"color":"#fff"},{"offset":0.32,"color":"#fff"},{"offset":0.32,"color":"#555"},{"offset":0.328,"color":"#555"},{"offset":0.328,"color":"#fff"},{"offset":0.34,"color":"#fff"},{"offset":0.34,"color":"#555"},{"offset":0.348,"color":"#555"},{"offset":0.348,"color":"#fff"},{"offset":0.36,"color":"#fff"},{"offset":0.36,"color":"#555"},{"offset":0.368,"color":"#555"},{"offset":0.368,"color":"#fff"},{"offset":0.38,"color":"#fff"},{"offset":0.38,"color":"#555"},{"offset":0.388,"color":"#555"},{"offset":0.388,"color":"#fff"},{"offset":0.4,"color":"#fff"},{"offset":0.4,"color":"#555"},{"offset":0.408,"color":"#555"},{"offset":0.408,"color":"#fff"},{"offset":0.42,"color":"#fff"},{"offset":0.42,"color":"#555"},{"offset":0.428,"color":"#555"},{"offset":0.428,"color":"#fff"},{"offset":0.44,"color":"#fff"},{"offset":0.44,"color":"#555"},{"offset":0.448,"color":"#555"},{"offset":0.448,"color":"#fff"},{"offset":0.46,"color":"#fff"},{"offset":0.46,"color":"#555"},{"offset":0.468,"color":"#555"},{"offset":0.468,"color":"#fff"},{"offset":0.48,"color":"#fff"},{"offset":0.48,"color":"#555"},{"offset":0.488,"color":"#555"},{"offset":0.488,"color":"#fff"},{"offset":0.5,"color":"#fff"},{"offset":0.5,"color":"#555"},{"offset":0.508,"color":"#555"},{"offset":0.508,"color":"#fff"},{"offset":0.52,"color":"#fff"},{"offset":0.52,"color":"#555"},{"offset":0.528,"color":"#555"},{"offset":0.528,"color":"#fff"},{"offset":0.54,"color":"#fff"},{"offset":0.54,"color":"#555"},{"offset":0.548,"color":"#555"},{"offset":0.548,"color":"#fff"},{"offset":0.56,"color":"#fff"},{"offset":0.56,"color":"#555"},{"offset":0.568,"color":"#555"},{"offset":0.568,"color":"#fff"},{"offset":0.58,"color":"#fff"},{"offset":0.58,"color":"#555"},{"offset":0.588,"color":"#555"},{"offset":0.588,"color":"#fff"},{"offset":0.6,"color":"#fff"},{"offset":0.6,"color":"#555"},{"offset":0.608,"color":"#555"},{"offset":0.608,"color":"#fff"},{"offset":0.62,"color":"#fff"},{"offset":0.62,"color":"#555"},{"offset":0.628,"color":"#555"},{"offset":0.628,"color":"#fff"},{"offset":0.64,"color":"#fff"},{"offset":0.64,"color":"#555"},{"offset":0.648,"color":"#555"},{"offset":0.648,"color":"#fff"},{"offset":0.66,"color":"#fff"},{"offset":0.66,"color":"#555"},{"offset":0.668,"color":"#555"},{"offset":0.668,"color":"#fff"},{"offset":0.68,"color":"#fff"},{"offset":0.68,"color":"#555"},{"offset":0.688,"color":"#555"},{"offset":0.688,"color":"#fff"},{"offset":0.7,"color":"#fff"},{"offset":0.7,"color":"#555"},{"offset":0.708,"color":"#555"},{"offset":0.708,"color":"#fff"},{"offset":0.72,"color":"#fff"},{"offset":0.72,"color":"#555"},{"offset":0.728,"color":"#555"},{"offset":0.728,"color":"#fff"},{"offset":0.74,"color":"#fff"},{"offset":0.74,"color":"#555"},{"offset":0.748,"color":"#555"},{"offset":0.748,"color":"#fff"},{"offset":0.76,"color":"#fff"},{"offset":0.76,"color":"#555"},{"offset":0.768,"color":"#555"},{"offset":0.768,"color":"#fff"},{"offset":0.78,"color":"#fff"},{"offset":0.78,"color":"#555"},{"offset":0.788,"color":"#555"},{"offset":0.788,"color":"#fff"},{"offset":0.8,"color":"#fff"},{"offset":0.8,"color":"#555"},{"offset":0.808,"color":"#555"},{"offset":0.808,"color":"#fff"},{"offset":0.82,"color":"#fff"},{"offset":0.82,"color":"#555"},{"offset":0.828,"color":"#555"},{"offset":0.828,"color":"#fff"},{"offset":0.84,"color":"#fff"},{"offset":0.84,"color":"#555"},{"offset":0.848,"color":"#555"},{"offset":0.848,"color":"#fff"},{"offset":0.86,"color":"#fff"},{"offset":0.86,"color":"#555"},{"offset":0.868,"color":"#555"},{"offset":0.868,"color":"#fff"},{"offset":0.88,"color":"#fff"},{"offset":0.88,"color":"#555"},{"offset":0.888,"color":"#555"},{"offset":0.888,"color":"#fff"},{"offset":0.9,"color":"#fff"},{"offset":0.9,"color":"#555"},{"offset":0.908,"color":"#555"},{"offset":0.908,"color":"#fff"},{"offset":0.92,"color":"#fff"},{"offset":0.92,"color":"#555"},{"offset":0.928,"color":"#555"},{"offset":0.928,"color":"#fff"},{"offset":0.94,"color":"#fff"},{"offset":0.94,"color":"#555"},{"offset":0.948,"color":"#555"},{"offset":0.948,"color":"#fff"},{"offset":0.96,"color":"#fff"},{"offset":0.96,"color":"#555"},{"offset":0.968,"color":"#555"},{"offset":0.968,"color":"#fff"},{"offset":0.98,"color":"#fff"},{"offset":0.98,"color":"#555"},{"offset":0.988,"color":"#555"},{"offset":0.988,"color":"#fff"},{"offset":1,"color":"#fff"}]}},
"encoding":{"x":{"field":"p","type":"quantitative","scale":{"domain":[1,3.5],"nice":false,"zero":false},"axis":null},"y":{"field":"n","type":"quantitative","scale":{"domain":[0,381],"nice":false},"axis":null}}},
{"mark":{"type":"line","interpolate":"step-after","color":"black","strokeWidth":2},
"encoding":{
"x":{"field":"p","type":"quantitative","scale":{"domain":[1,3.5],"nice":false,"zero":false},"axis":{"orient":"bottom","values":[1,1.5,2,2.5,3,3.5],"labelExpr":"''+datum.value","ticks":false,"labelPadding":13,"title":"p(d)\u00a0\u00a0\u00a0[GeV/c]","titleAnchor":"end","titlePadding":5}},
"y":{"field":"n","type":"quantitative","scale":{"domain":[0,381],"nice":false},"axis":{"orient":"left","values":[0,50,100,150,200,250,300,350],"labelExpr":"''+datum.value","ticks":false,"labelPadding":12,"title":null}}}},
{"data":{"values":[{}]},"mark":{"type":"text","text":"d)","font":"Liberation Serif","fontWeight":"bold","fontSize":22,"align":"left","baseline":"middle","color":"black"},
"encoding":{"x":{"datum":1.135,"type":"quantitative","scale":{"domain":[1,3.5],"nice":false,"zero":false},"axis":null},"y":{"datum":333,"type":"quantitative","scale":{"domain":[0,381],"nice":false},"axis":null}}},
{"data":{"values":[{}]},"mark":{"type":"text","text":"pp->dπ","font":"Liberation Serif","fontWeight":"bold","fontSize":19,"align":"left","baseline":"alphabetic","color":"black"},
"encoding":{"x":{"datum":2.317,"type":"quantitative","scale":{"domain":[1,3.5],"nice":false,"zero":false},"axis":null},"y":{"datum":317,"type":"quantitative","scale":{"domain":[0,381],"nice":false},"axis":null}}},
{"data":{"values":[{}]},"mark":{"type":"text","text":"+","font":"Liberation Serif","fontWeight":"bold","fontSize":14,"align":"left","baseline":"alphabetic","color":"black"},
"encoding":{"x":{"datum":2.933,"type":"quantitative","scale":{"domain":[1,3.5],"nice":false,"zero":false},"axis":null},"y":{"datum":330,"type":"quantitative","scale":{"domain":[0,381],"nice":false},"axis":null}}},
{"data":{"values":[{}]},"mark":{"type":"text","text":"η","font":"Liberation Serif","fontSize":19,"align":"left","baseline":"alphabetic","color":"black"},
"encoding":{"x":{"datum":3.016,"type":"quantitative","scale":{"domain":[1,3.5],"nice":false,"zero":false},"axis":null},"y":{"datum":317,"type":"quantitative","scale":{"domain":[0,381],"nice":false},"axis":null}}},
{"data":{"values":[{}]},"mark":{"type":"text","text":"ANKE","font":"Liberation Serif","fontWeight":"bold","fontSize":19,"align":"left","baseline":"alphabetic","color":"black"},
"encoding":{"x":{"datum":2.317,"type":"quantitative","scale":{"domain":[1,3.5],"nice":false,"zero":false},"axis":null},"y":{"datum":272.6,"type":"quantitative","scale":{"domain":[0,381],"nice":false},"axis":null}}},
{"data":{"values":[{}]},"mark":{"type":"text","text":"acceptance","font":"Liberation Serif","fontWeight":"bold","fontSize":19,"align":"left","baseline":"alphabetic","color":"black"},
"encoding":{"x":{"datum":2.317,"type":"quantitative","scale":{"domain":[1,3.5],"nice":false,"zero":false},"axis":null},"y":{"datum":242,"type":"quantitative","scale":{"domain":[0,381],"nice":false},"axis":null}}}
]
}
],
"config":{
"view":{"stroke":"black","strokeWidth":1.2},
"axis":{"labelFont":"Liberation Serif","labelFontWeight":"bold","labelFontSize":15,"labelColor":"black","domain":false,"grid":false,"ticks":false,"labelOverlap":false,"labelFlush":false,"titleFont":"Liberation Serif","titleFontWeight":"normal","titleFontSize":16,"titleColor":"black"}
}
}
